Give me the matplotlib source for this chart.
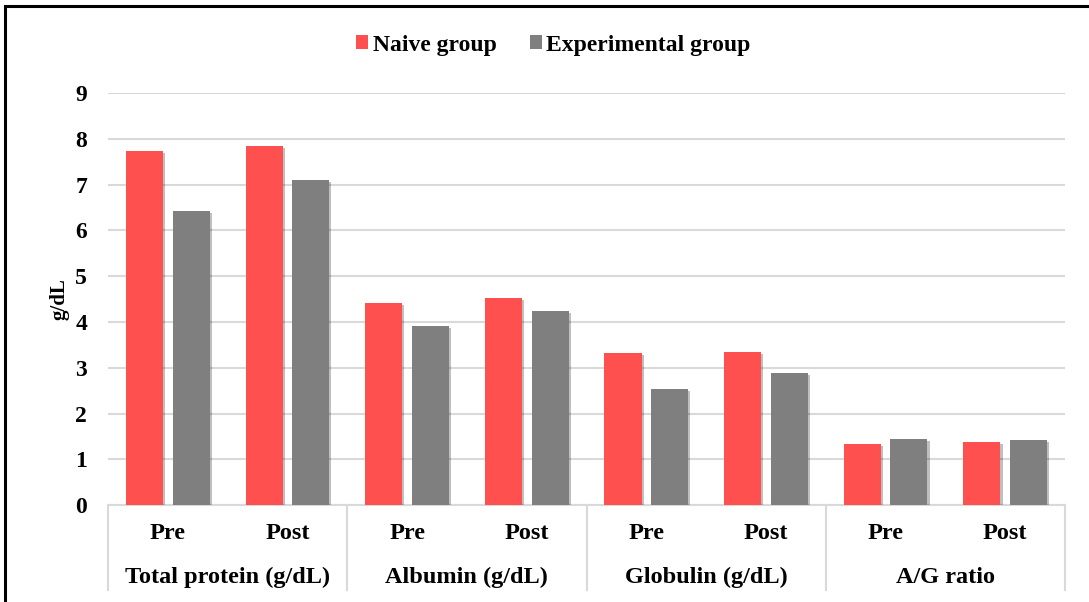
import numpy as np
import matplotlib
matplotlib.use("Agg")
import matplotlib.pyplot as plt
import matplotlib.patheffects as pe
from matplotlib.patches import Rectangle

plt.rcParams['font.family'] = ['Liberation Serif', 'DejaVu Serif']
plt.rcParams['font.weight'] = 'bold'

groups = ['Total protein (g/dL)', 'Albumin (g/dL)', 'Globulin (g/dL)', 'A/G ratio']
phases = ['Pre', 'Post']
naive = [7.73, 7.84, 4.41, 4.52, 3.32, 3.34, 1.33, 1.38]
experimental = [6.42, 7.10, 3.91, 4.24, 2.53, 2.88, 1.44, 1.42]

RED = '#ff5050'
GRAY = '#7f7f7f'
GRID = '#d9d9d9'

fig = plt.figure(figsize=(10.89, 6.02), dpi=100)
ax = fig.add_axes([0.0992, 0.161, 0.8788, 0.6845])

x = np.arange(len(naive))
w = 0.31
shadow = [pe.SimplePatchShadow(offset=(1.5, -1.5), shadow_rgbFace='black', alpha=0.25), pe.Normal()]
b1 = ax.bar(x - 0.195, naive, w, color=RED, label='Naive group', zorder=3)
b2 = ax.bar(x + 0.195, experimental, w, color=GRAY, label='Experimental group', zorder=3)
for b in list(b1) + list(b2):
    b.set_path_effects(shadow)

ax.set_xlim(-0.5, len(naive) - 0.5)
ax.set_ylim(0, 9)
ax.set_yticks(range(0, 10))
ax.yaxis.grid(True, color=GRID, linewidth=1.5, zorder=0)
ax.set_axisbelow(True)
for s in ['top', 'right', 'left']:
    ax.spines[s].set_visible(False)
ax.spines['bottom'].set_color(GRID)
ax.spines['bottom'].set_linewidth(1.5)
ax.tick_params(axis='y', length=0, pad=15, labelsize=17)
ax.tick_params(axis='x', length=0)
ax.set_xticks([])
for lab in ax.get_yticklabels():
    lab.set_fontweight('bold')

ax.set_ylabel('g/dL', fontsize=15, fontweight='bold', labelpad=4)

# category table under the axis
tr = ax.get_xaxis_transform()
for i in range(len(naive)):
    ax.text(i, -0.068, phases[i % 2], transform=tr, ha='center', va='center',
            fontsize=17.5, fontweight='bold')
for g, name in enumerate(groups):
    ax.text(2 * g + 0.5, -0.175, name, transform=tr, ha='center', va='center',
            fontsize=17.5, fontweight='bold')
for k in range(len(groups) + 1):
    ax.plot([2 * k - 0.5, 2 * k - 0.5], [0, -0.206], transform=tr, color=GRID,
            linewidth=1.5, clip_on=False)

leg = ax.legend(loc='center', bbox_to_anchor=(0.5 + 9 / 1089, 1 - 45 / 602),
                bbox_transform=fig.transFigure,
                ncol=2, frameon=False, fontsize=17, handlelength=0.5, handleheight=0.5,
                handletextpad=0.2, columnspacing=1.4)
for t in leg.get_texts():
    t.set_fontweight('bold')
for h in leg.legend_handles:
    h.set_path_effects([])

# outer frame (top and left edges visible)
fig.add_artist(Rectangle((5 / 1089, -0.1), 1.2, 1.1 - 6 / 602, transform=fig.transFigure,
                         fill=False, edgecolor='black', linewidth=2.2))

fig.savefig('out.png', dpi=100)
